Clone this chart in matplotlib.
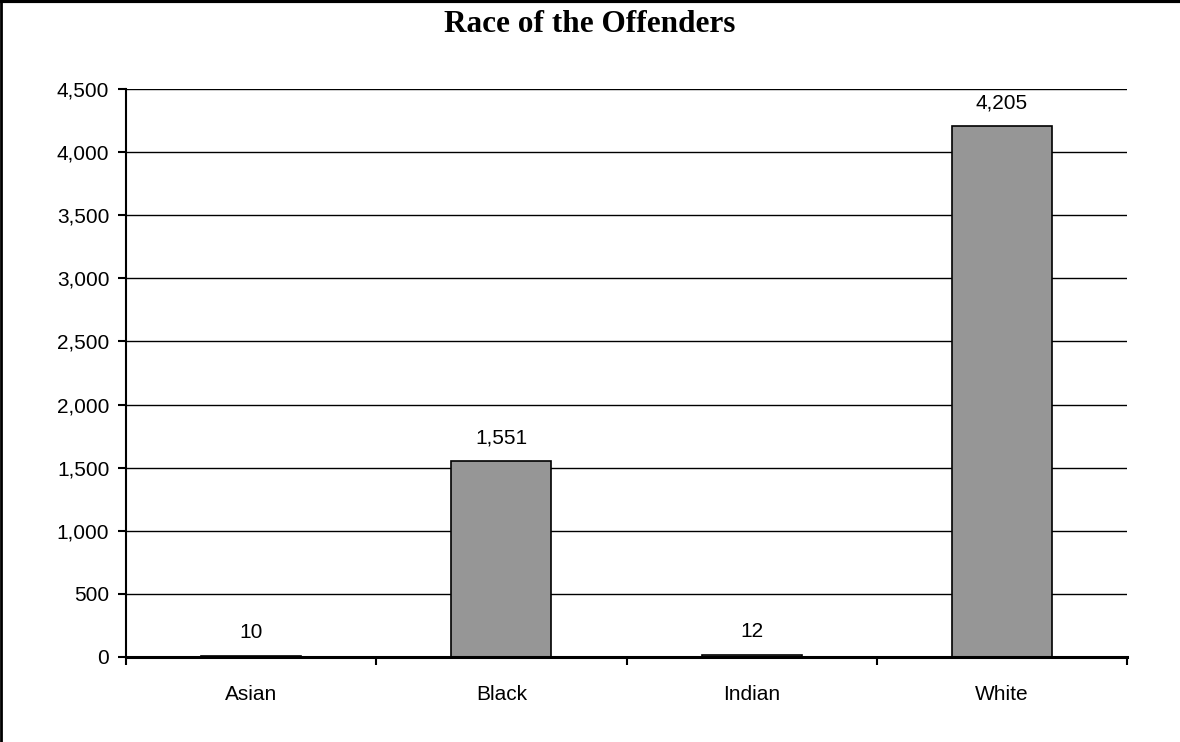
import numpy as np
import matplotlib.pyplot as plt
from matplotlib.lines import Line2D
from matplotlib.ticker import FuncFormatter, MultipleLocator

races = ["Asian", "Black", "Indian", "White"]
counts = [10, 1551, 12, 4205]

plt.rcParams["font.family"] = ["Liberation Sans", "DejaVu Sans"]

fig = plt.figure(figsize=(11.8, 7.42), dpi=100)
ax = fig.add_axes([126 / 1180, 1 - 657 / 742, 1001 / 1180, 568 / 742])

x = np.arange(len(races))
bars = ax.bar(x, counts, width=0.4, color="#969696", edgecolor="black",
              linewidth=1.2, zorder=2)

for xi, v in zip(x, counts):
    ax.annotate(f"{v:,}", (xi, v), xytext=(0, 13), textcoords="offset points",
                ha="center", va="baseline", fontsize=15)

ax.set_xlim(-0.5, len(races) - 0.5)
ax.set_ylim(0, 4500)
ax.yaxis.set_major_locator(MultipleLocator(500))
ax.yaxis.set_major_formatter(FuncFormatter(lambda v, p: f"{int(v):,}"))
ax.grid(axis="y", color="black", linewidth=1, zorder=0)
ax.set_axisbelow(True)

ax.set_xticks(x)
ax.set_xticklabels(races)
ax.set_xticks(np.arange(len(races) + 1) - 0.5, minor=True)
ax.tick_params(axis="x", which="major", length=0, pad=20, labelsize=15)
ax.tick_params(axis="x", which="minor", length=6, width=1.5, direction="out")
ax.tick_params(axis="y", length=6, width=1.5, direction="out", labelsize=15, pad=6)

for s in ["top", "right"]:
    ax.spines[s].set_visible(False)
ax.spines["left"].set_linewidth(1.5)
ax.spines["bottom"].set_linewidth(2.2)
ax.spines["bottom"].set_zorder(3)

fig.text(0.5, 1 - 32 / 742, "Race of the Offenders",
         family=["Liberation Serif", "DejaVu Serif"], fontweight="bold",
         fontsize=22.5, ha="center", va="baseline")

# frame around the whole chart (only top and left edges show)
fig.add_artist(Line2D([0.001, 0.001], [0, 1], transform=fig.transFigure,
                      color="black", linewidth=2))
fig.add_artist(Line2D([0, 1], [0.998, 0.998], transform=fig.transFigure,
                      color="black", linewidth=3))

fig.savefig("out.png", dpi=100)
